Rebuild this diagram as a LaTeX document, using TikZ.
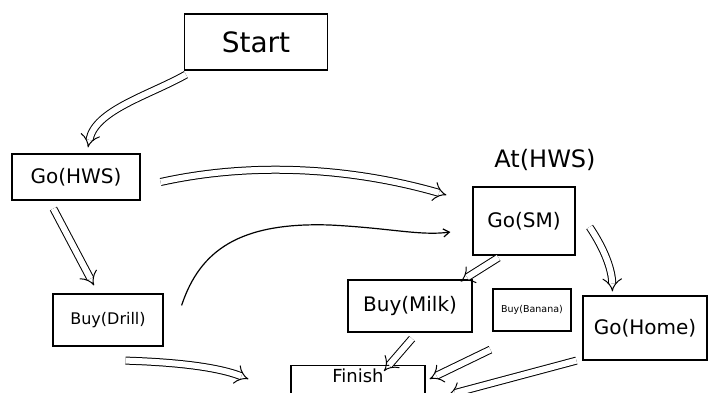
\documentclass[tikz,border=0pt]{standalone}
\usepackage{fontspec}
\setmainfont{DejaVu Sans}
\usetikzlibrary{arrows.meta,calc}
\tikzset{
  box/.style={draw, line width=1.2pt, inner sep=2pt, font=\fontsize{20}{24}\selectfont},
  dbl/.style={draw, line width=1pt, double distance=6pt, -{Implies}},
  sgl/.style={draw, line width=1.2pt, -{Straight Barb[length=6pt,width=8pt]}},
}
\begin{document}
\begin{tikzpicture}[x=1pt,y=-1pt]
\useasboundingbox (0,0) rectangle (712,392);
\clip (0,0) rectangle (712,392);
\node[box, minimum width=143pt, minimum height=56pt, font=\fontsize{28}{32}\selectfont] (start) at (256,42) {Start};
\node[box, minimum width=128pt, minimum height=46pt] (gohws) at (76,177) {Go(HWS)};
\node[font=\fontsize{24}{28}\selectfont] (athws) at (545,160) {At(HWS)};
\node[box, minimum width=102pt, minimum height=68pt] (gosm) at (524,221) {Go(SM)};
\node[box, minimum width=110pt, minimum height=52pt, font=\fontsize{16}{19}\selectfont] (buydrill) at (108,320) {Buy(Drill)};
\node[box, minimum width=124pt, minimum height=52pt] (buymilk) at (410,306) {Buy(Milk)};
\node[box, minimum width=78pt, minimum height=42pt, font=\fontsize{9.5}{11}\selectfont] (buyban) at (532,310) {Buy(Banana)};
\node[box, minimum width=124pt, minimum height=64pt] (gohome) at (645,328) {Go(Home)};
\node[box, minimum width=134pt, inner sep=3pt, text height=14pt, text depth=30pt, anchor=north, font=\fontsize{18}{21}\selectfont] (finish) at (358,365) {Finish};
% connectors
\draw[dbl] ($(start.south west)+(2,4)$) .. controls (150,95) and (95,110) .. ($(gohws.north)+(12,-6)$);
\draw[dbl] ($(gohws.east)+(20,5)$) .. controls (260,160) and (360,170) .. ($(gosm.west)+(-26,-26)$);
\draw[dbl] ($(gohws.south west)+(42,8)$) -- ($(buydrill.north)+(-14,-8)$);
\draw[sgl] ($(buydrill.north east)+(18,12)$) .. controls (200,250) and (240,222) .. (330,225) .. controls (390,228) and (420,236) .. ($(gosm.west)+(-22,11)$);
\draw[dbl] ($(buydrill.south east)+(-38,14)$) .. controls (170,362) and (215,366) .. ($(finish.north west)+(-42,14)$);
\draw[dbl] ($(gosm.south west)+(26,2)$) -- ($(buymilk.north east)+(-12,2)$);
\draw[dbl] ($(gosm.east)+(14,6)$) .. controls (605,250) and (612,270) .. ($(gohome.north west)+(30,-4)$);
\draw[dbl] ($(buymilk.south)+(2,6)$) -- ($(finish.north)+(26,6)$);
\draw[dbl] ($(buyban.south west)+(-2,18)$) -- ($(finish.north east)+(4,14)$);
\draw[dbl] ($(gohome.south west)+(-6,0)$) -- ($(finish.north east)+(22,30)$);
\end{tikzpicture}
\end{document}
